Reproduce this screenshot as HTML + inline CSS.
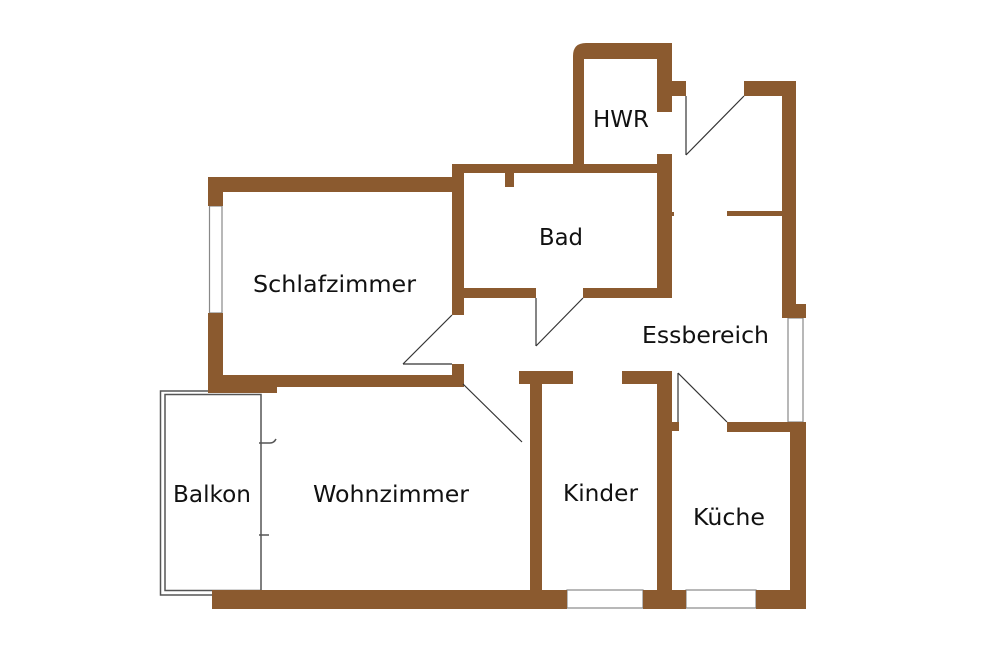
<!DOCTYPE html>
<html>
<head>
<meta charset="utf-8">
<style>
html,body{margin:0;padding:0;background:#fff;}
svg{display:block;}
text{font-family:"DejaVu Sans","Liberation Sans",sans-serif;font-size:23.5px;fill:#111;}
</style>
</head>
<body>
<svg width="1000" height="667" viewBox="0 0 1000 667" xmlns="http://www.w3.org/2000/svg">
<rect width="1000" height="667" fill="#fff"/>

<!-- Balkon -->
<g fill="none" stroke="#555" stroke-width="1.5">
  <polyline points="208,391 160.5,391 160.5,595 212,595"/>
  <rect x="165" y="394.5" width="96" height="196"/>
  <path d="M259,443 L270,443 Q274,443 276,439"/>
  <line x1="259" y1="535" x2="269" y2="535"/>
</g>

<!-- windows -->
<g fill="#fff" stroke="#888" stroke-width="1.2">
  <rect x="209.5" y="206" width="12.5" height="107"/>
  <rect x="567" y="590" width="76" height="18"/>
  <rect x="686" y="590" width="70" height="18"/>
  <rect x="788" y="318" width="15" height="104"/>
</g>

<!-- walls -->
<g fill="#8b5a2f">
  <!-- HWR -->
  <path d="M573,165 L573,56 Q573,43 586,43 L672,43 L672,112 L657,112 L657,59 L584,59 L584,165 Z"/>
  <rect x="672" y="81" width="14" height="15"/>
  <rect x="657" y="154" width="15" height="144"/>
  <!-- Essbereich right -->
  <rect x="744" y="81" width="52" height="15"/>
  <rect x="782" y="81" width="14" height="237"/>
  <rect x="782" y="304" width="24" height="14"/>
  <rect x="727" y="211" width="55" height="5"/>
  <rect x="672" y="212" width="2" height="4"/>
  <!-- Bad -->
  <rect x="452" y="164" width="220" height="9"/>
  <rect x="505" y="173" width="9" height="14"/>
  <rect x="452" y="164" width="12" height="151"/>
  <rect x="464" y="288" width="72" height="10"/>
  <rect x="583" y="288" width="89" height="10"/>
  <!-- Schlafzimmer -->
  <rect x="208" y="177" width="244" height="15"/>
  <rect x="208" y="177" width="15" height="29"/>
  <rect x="208" y="313" width="15" height="80"/>
  <rect x="208" y="375" width="256" height="12"/>
  <rect x="208" y="375" width="69" height="18"/>
  <rect x="452" y="364" width="12" height="23"/>
  <!-- bottom wall -->
  <rect x="212" y="590" width="355" height="19"/>
  <rect x="643" y="590" width="43" height="19"/>
  <rect x="756" y="590" width="50" height="19"/>
  <!-- Kinder -->
  <rect x="519" y="371" width="54" height="13"/>
  <rect x="530" y="371" width="12" height="219"/>
  <rect x="622" y="371" width="50" height="13"/>
  <rect x="657" y="371" width="15" height="219"/>
  <!-- Küche -->
  <rect x="672" y="422" width="7" height="9"/>
  <rect x="727" y="422" width="79" height="10"/>
  <rect x="790" y="422" width="16" height="187"/>
</g>

<!-- doors -->
<g fill="none" stroke="#333" stroke-width="1.2">
  <line x1="686" y1="96" x2="686" y2="155"/>
  <line x1="686" y1="155" x2="744" y2="96"/>
  <line x1="536" y1="298" x2="536" y2="346"/>
  <line x1="536" y1="346" x2="583" y2="298"/>
  <line x1="452" y1="315" x2="403" y2="364"/>
  <line x1="403" y1="364" x2="452" y2="364"/>
  <line x1="463" y1="384" x2="522" y2="442"/>
  <line x1="678" y1="373" x2="678" y2="422"/>
  <line x1="678" y1="373" x2="727" y2="422"/>
</g>

<!-- labels -->
<text x="593" y="127" textLength="56" lengthAdjust="spacingAndGlyphs">HWR</text>
<text x="539" y="245" textLength="44" lengthAdjust="spacingAndGlyphs">Bad</text>
<text x="253" y="292" textLength="163" lengthAdjust="spacingAndGlyphs">Schlafzimmer</text>
<text x="642" y="343" textLength="127" lengthAdjust="spacingAndGlyphs">Essbereich</text>
<text x="173" y="502" textLength="78" lengthAdjust="spacingAndGlyphs">Balkon</text>
<text x="313" y="502" textLength="156" lengthAdjust="spacingAndGlyphs">Wohnzimmer</text>
<text x="563" y="501" textLength="75" lengthAdjust="spacingAndGlyphs">Kinder</text>
<text x="693" y="525" textLength="72" lengthAdjust="spacingAndGlyphs">Küche</text>
</svg>
</body>
</html>
